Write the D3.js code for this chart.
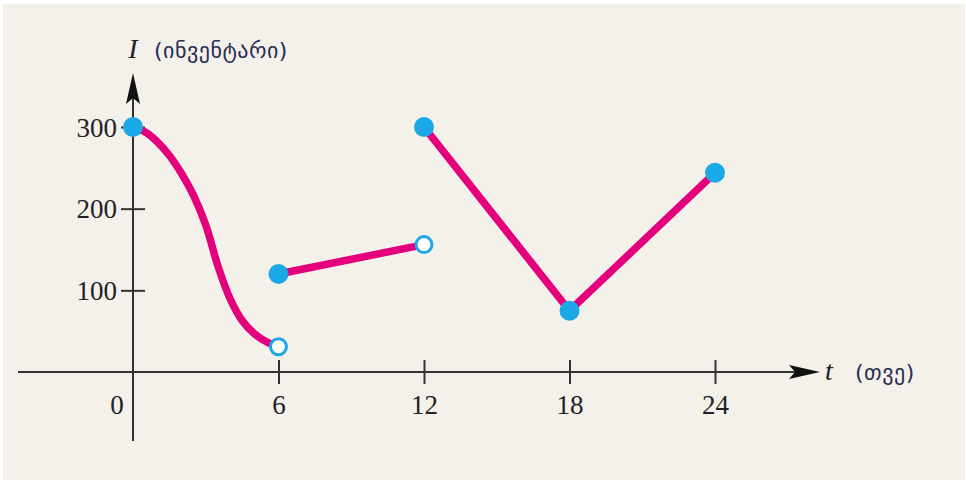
<!DOCTYPE html>
<html>
<head>
<meta charset="utf-8">
<script src="https://cdn.jsdelivr.net/npm/d3@7"></script>
<style>
  html, body { margin: 0; padding: 0; background: #ffffff; }
  svg { display: block; }
</style>
</head>
<body>
<svg id="chart" width="966" height="484"></svg>
<script>
// Inventory level I over time t (months)
const curveT = [0, 0.5, 1, 1.5, 2, 2.5, 3, 3.5, 4, 4.5, 5, 5.5, 6];
const curveI = [300, 294, 282, 265, 243, 216, 180, 130, 90, 63, 47, 37, 31];
const segA_T = [6, 12];
const segA_I = [120, 156];
const segB_T = [12, 18, 24];
const segB_I = [300, 75, 244];
const filledT = [0, 6, 12, 18, 24];
const filledI = [300, 120, 300, 75, 244];
const openT = [6, 12];
const openI = [31, 156];
const xTicks = [6, 12, 18, 24];
const yTicks = [100, 200, 300];
const yLabel = "I";
const yUnit = "(ინვენტარი)";
const xLabel = "t";
const xUnit = "(თვე)";

const svg = d3.select("#chart");
const axisColor = "#333333";
const lineColor = "#E4007C";
const dotColor = "#1BA8E6";
const serif = "'Liberation Serif', 'Times New Roman', serif";
const sans = "'DejaVu Sans', sans-serif";

svg.append("rect").attr("x", 3).attr("y", 4).attr("width", 962).attr("height", 476)
  .attr("fill", "#F4F1EA");

const x = d3.scaleLinear().domain([0, 24]).range([133, 715]);
const y = d3.scaleLinear().domain([0, 300]).range([372, 127]);

// axis lines
svg.append("line").attr("x1", 18).attr("x2", 800).attr("y1", y(0)).attr("y2", y(0))
  .attr("stroke", axisColor).attr("stroke-width", 2);
svg.append("line").attr("x1", x(0)).attr("x2", x(0)).attr("y1", 441).attr("y2", 92)
  .attr("stroke", axisColor).attr("stroke-width", 2);

// arrow heads
svg.append("path")
  .attr("d", `M820,${y(0)} L789,${y(0) - 7} L795,${y(0)} L789,${y(0) + 7} Z`)
  .attr("fill", "#111");
svg.append("path")
  .attr("d", `M${x(0)},73 L${x(0) - 7},104 L${x(0)},98 L${x(0) + 7},104 Z`)
  .attr("fill", "#111");

// x ticks (crossing the axis)
const xAxis = d3.axisBottom(x).tickValues(xTicks).tickSize(12).tickPadding(20)
  .tickFormat(d3.format("d"));
const gx = svg.append("g").attr("transform", `translate(0,${y(0)})`).call(xAxis);
gx.select(".domain").remove();
gx.selectAll(".tick line").attr("y1", -12).attr("y2", 12)
  .attr("stroke", axisColor).attr("stroke-width", 2);
gx.selectAll(".tick text").attr("font-family", serif).attr("font-size", 27)
  .attr("fill", "#222").attr("dy", 0).attr("y", 42);

// origin label
svg.append("text").attr("x", x(0) - 16).attr("y", y(0) + 42).attr("text-anchor", "middle")
  .attr("font-family", serif).attr("font-size", 27).attr("fill", "#222").text("0");

// y ticks (crossing the axis)
const yAxis = d3.axisLeft(y).tickValues(yTicks).tickSize(12).tickPadding(16)
  .tickFormat(d3.format("d"));
const gy = svg.append("g").attr("transform", `translate(${x(0)},0)`).call(yAxis);
gy.select(".domain").remove();
gy.selectAll(".tick line").attr("x1", -12).attr("x2", 12)
  .attr("stroke", axisColor).attr("stroke-width", 2);
gy.selectAll(".tick text").attr("font-family", serif).attr("font-size", 27)
  .attr("fill", "#222").attr("x", -16).attr("dy", "0.34em");

// axis titles
svg.append("text").attr("x", x(0)).attr("y", 58).attr("text-anchor", "middle")
  .attr("font-family", serif).attr("font-style", "italic").attr("font-size", 28)
  .attr("fill", "#222").text(yLabel);
svg.append("text").attr("x", 154).attr("y", 58)
  .attr("font-family", sans).attr("font-size", 22).attr("letter-spacing", 0.5)
  .attr("fill", "#2a2d55").text(yUnit);
svg.append("text").attr("x", 825).attr("y", 380)
  .attr("font-family", serif).attr("font-style", "italic").attr("font-size", 28)
  .attr("fill", "#222").text(xLabel);
svg.append("text").attr("x", 855).attr("y", 380)
  .attr("font-family", sans).attr("font-size", 22).attr("letter-spacing", 0.5)
  .attr("fill", "#2a2d55").text(xUnit);

// lines
const smooth = d3.line().x(d => x(d[0])).y(d => y(d[1])).curve(d3.curveCatmullRom.alpha(0.5));
const straight = d3.line().x(d => x(d[0])).y(d => y(d[1]));
const lines = svg.append("g").attr("fill", "none").attr("stroke", lineColor)
  .attr("stroke-width", 7.5).attr("stroke-linecap", "round");
lines.append("path").attr("d", smooth(d3.zip(curveT, curveI)));
lines.append("path").attr("d", straight(d3.zip(segA_T, segA_I)));
lines.append("path").attr("d", straight(d3.zip(segB_T, segB_I)));

// filled dots
svg.append("g").selectAll("circle").data(d3.zip(filledT, filledI)).join("circle")
  .attr("cx", d => x(d[0])).attr("cy", d => y(d[1])).attr("r", 10)
  .attr("fill", dotColor);

// open dots
svg.append("g").selectAll("circle").data(d3.zip(openT, openI)).join("circle")
  .attr("cx", d => x(d[0])).attr("cy", d => y(d[1])).attr("r", 8)
  .attr("fill", "#ffffff").attr("stroke", dotColor).attr("stroke-width", 3);
</script>
</body>
</html>
